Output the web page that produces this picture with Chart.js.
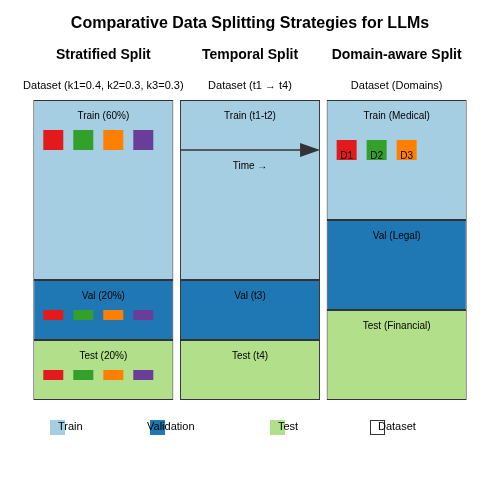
<!DOCTYPE html>
<html><head><meta charset="utf-8">
<script src="https://cdn.jsdelivr.net/npm/chart.js@4/dist/chart.umd.min.js"></script>
<style>html,body{margin:0;background:#fff}#c{width:500px;height:500px}</style>
</head><body><div id="c"><canvas id="cv" width="500" height="500"></canvas></div>
<script>
const strategies = ['Stratified Split', 'Temporal Split', 'Domain-aware Split'];
const datasetLabels = ['Dataset (k1=0.4, k2=0.3, k3=0.3)', 'Dataset (t1 \u2192 t4)', 'Dataset (Domains)'];
const trainShare = [0.6, 0.6, 0.4];
const valShare = [0.2, 0.2, 0.3];
const testShare = [0.2, 0.2, 0.3];
const trainLabels = ['Train (60%)', 'Train (t1-t2)', 'Train (Medical)'];
const valLabels = ['Val (20%)', 'Val (t3)', 'Val (Legal)'];
const testLabels = ['Test (20%)', 'Test (t4)', 'Test (Financial)'];
const classColors = ['#e31a1c', '#33a02c', '#ff7f00', '#6a3d9a'];
const domains = ['D1', 'D2', 'D3'];

const C_TRAIN = '#a6cee3', C_VAL = '#1f78b4', C_TEST = '#b2df8a';
const font = 'Liberation Sans, Arial, sans-serif';

const overlay = {
  id: 'overlay',
  afterDraw(chart) {
    const ctx = chart.ctx, x = chart.scales.x, y = chart.scales.y;
    const meta = chart.getDatasetMeta(0);
    ctx.save();
    ctx.fillStyle = '#000';
    ctx.textAlign = 'center';
    ctx.textBaseline = 'middle';
    ctx.font = 'bold 16px ' + font;
    ctx.fillText('Comparative Data Splitting Strategies for LLMs', 250, 24);
    strategies.forEach((s, i) => {
      const cx = x.getPixelForValue(i);
      const left = meta.data[i].x - meta.data[i].width / 2;
      ctx.font = 'bold 14px ' + font;
      ctx.fillText(s, cx, 55);
      ctx.font = '11px ' + font;
      ctx.fillText(datasetLabels[i], cx, 86);
      ctx.font = '10px ' + font;
      const yTrainTop = y.getPixelForValue(1);
      const yValTop = y.getPixelForValue(valShare[i] + testShare[i]);
      const yTestTop = y.getPixelForValue(testShare[i]);
      ctx.fillText(trainLabels[i], cx, yTrainTop + 16);
      ctx.fillText(valLabels[i], cx, yValTop + 16);
      ctx.fillText(testLabels[i], cx, yTestTop + 16);
      if (i === 0) {
        classColors.forEach((c, k) => {
          ctx.fillStyle = c;
          ctx.fillRect(left + 10 + 30 * k, yTrainTop + 30, 20, 20);
          ctx.fillRect(left + 10 + 30 * k, yValTop + 30, 20, 10);
          ctx.fillRect(left + 10 + 30 * k, yTestTop + 30, 20, 10);
        });
        ctx.fillStyle = '#000';
      }
      if (i === 1) {
        const ay = yTrainTop + 50, right = left + meta.data[i].width;
        ctx.strokeStyle = '#333'; ctx.lineWidth = 1.5;
        ctx.beginPath(); ctx.moveTo(left, ay); ctx.lineTo(right - 18, ay); ctx.stroke();
        ctx.fillStyle = '#333';
        ctx.beginPath(); ctx.moveTo(right, ay); ctx.lineTo(right - 20, ay - 7); ctx.lineTo(right - 20, ay + 7); ctx.closePath(); ctx.fill();
        ctx.fillStyle = '#000';
        ctx.fillText('Time \u2192', cx, ay + 16);
      }
      if (i === 2) {
        domains.forEach((d, k) => {
          ctx.fillStyle = classColors[k];
          ctx.fillRect(left + 10 + 30 * k, yTrainTop + 40, 20, 20);
          ctx.fillStyle = '#000';
          ctx.fillText(d, left + 20 + 30 * k, yTrainTop + 56);
        });
      }
    });
    // legend
    const items = [['Train', C_TRAIN, 50], ['Validation', C_VAL, 150], ['Test', C_TEST, 270], ['Dataset', null, 370]];
    ctx.font = '11px ' + font;
    ctx.textAlign = 'left';
    items.forEach(([t, c, lx]) => {
      if (c) { ctx.fillStyle = c; ctx.fillRect(lx, 420, 15, 15); }
      else { ctx.strokeStyle = '#333'; ctx.lineWidth = 1; ctx.strokeRect(lx + 0.5, 420.5, 14, 14); }
      ctx.fillStyle = '#000';
      ctx.fillText(t, lx + (t === 'Validation' ? -3 : 8), 427);
    });
    ctx.restore();
  }
};

const mk = (label, data, color) => ({
  label, data, backgroundColor: color, borderColor: '#333', borderWidth: 1,
  borderSkipped: false, barPercentage: 0.955, categoryPercentage: 1
});

new Chart(document.getElementById('cv'), {
  type: 'bar',
  data: {
    labels: strategies,
    datasets: [mk('Test', testShare, C_TEST), mk('Validation', valShare, C_VAL), mk('Train', trainShare, C_TRAIN)]
  },
  options: {
    responsive: false, animation: false, devicePixelRatio: 1,
    layout: { padding: { left: 30, right: 30, top: 100, bottom: 100 } },
    plugins: { legend: { display: false }, tooltip: { enabled: false } },
    scales: {
      x: { stacked: true, display: false, offset: true },
      y: { stacked: true, display: false, min: 0, max: 1 }
    }
  },
  plugins: [overlay]
});
</script></body></html>
